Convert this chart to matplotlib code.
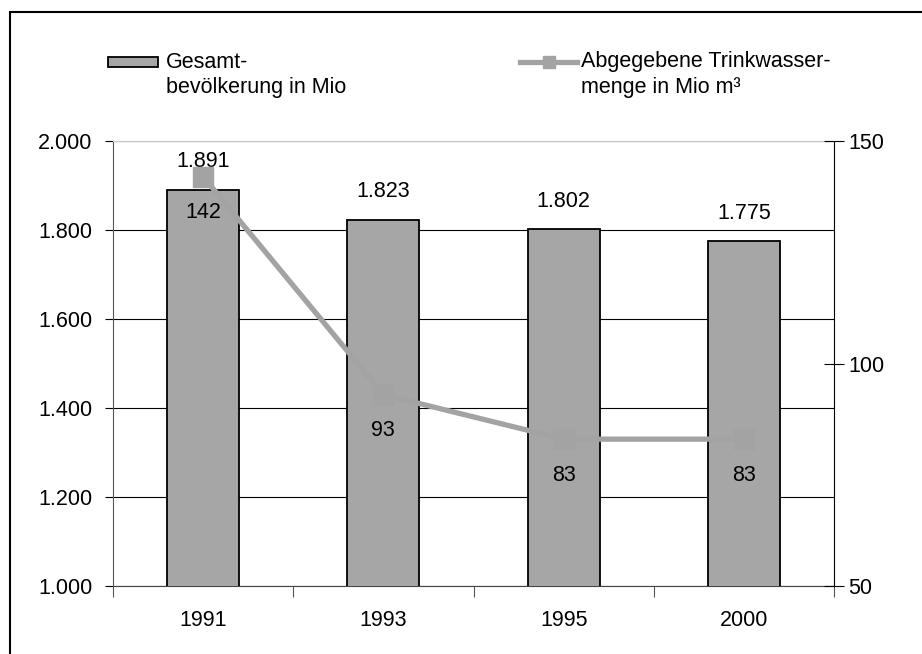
import matplotlib
matplotlib.use("Agg")
import matplotlib.pyplot as plt
import matplotlib.patches as mpatches
from matplotlib.lines import Line2D
from matplotlib.ticker import FuncFormatter
import numpy as np

plt.rcParams["font.family"] = ["Liberation Sans", "DejaVu Sans"]

years = ["1991", "1993", "1995", "2000"]
population = [1891, 1823, 1802, 1775]
water = [142, 93, 83, 83]

BAR_COLOR = "#a6a6a6"
LINE_COLOR = "#a3a3a3"
FS = 15.5


def thousands(v, _pos=None):
    return f"{int(v):,}".replace(",", ".")


def fy(py):
    # pixel row from top -> figure fraction
    return (654 - py) / 654


fig = plt.figure(figsize=(9.22, 6.54), dpi=100)

# frame around the chart (only top/left visible in the crop)
fig.add_artist(mpatches.Rectangle((10 / 922, -0.1), 1.2, fy(12) + 0.1,
                                  transform=fig.transFigure, facecolor="none",
                                  edgecolor="black", linewidth=1.5))

ax = fig.add_axes([113 / 922, 68 / 654, 721 / 922, 445 / 654])
ax2 = ax.twinx()

x = np.arange(len(years))
ax.bar(x, population, width=0.4, color=BAR_COLOR, edgecolor="black",
       linewidth=1.3, zorder=3)
ax.set_xlim(-0.5, len(years) - 0.5)
ax.set_ylim(1000, 2000)
ax.set_yticks(np.arange(1000, 2001, 200))
ax.yaxis.set_major_formatter(FuncFormatter(thousands))
ax.grid(axis="y", color="black", linewidth=0.8, zorder=0)
ax.set_axisbelow(True)

ax.set_xticks(x)
ax.set_xticklabels(years)
ax.set_xticks(np.arange(-0.5, len(years)), minor=True)
ax.tick_params(axis="x", which="major", length=0, pad=17, labelsize=FS)
ax.tick_params(axis="x", which="minor", length=8, width=0.8, color="#555555")
ax.tick_params(axis="y", length=6, width=0.8, labelsize=FS, pad=9)

ax.spines["top"].set_color("#c8c8c8")
ax.spines["left"].set_color("#555555")
ax.spines["bottom"].set_color("#444444")
ax.spines["right"].set_visible(False)

for xi, v in zip(x, population):
    ax.annotate(thousands(v), (xi, v), xytext=(0, 20), textcoords="offset points",
                ha="center", va="center", fontsize=FS, zorder=6)

ax2.plot(x, water, color=LINE_COLOR, linewidth=3.8, marker="s", markersize=15,
         markerfacecolor=LINE_COLOR, markeredgecolor=LINE_COLOR, zorder=5)
ax2.set_ylim(50, 150)
ax2.set_yticks([50, 100, 150])
ax2.tick_params(axis="y", direction="inout", length=14, width=0.8, labelsize=FS, pad=3)
ax2.spines["right"].set_color("black")
for side in ("top", "left", "bottom"):
    ax2.spines[side].set_visible(False)

for xi, v in zip(x, water):
    ax2.annotate(str(v), (xi, v), xytext=(0, -26), textcoords="offset points",
                 ha="center", va="center", fontsize=FS, zorder=6)

# legend
fig.add_artist(mpatches.Rectangle((108 / 922, fy(67)), 50 / 922, 10 / 654,
                                  transform=fig.transFigure, facecolor=BAR_COLOR,
                                  edgecolor="black", linewidth=1.3))
fig.text(166 / 922, fy(62), "Gesamt-", fontsize=FS, ha="left", va="center")
fig.text(166 / 922, fy(88), "bevölkerung in Mio", fontsize=FS, ha="left", va="center")

fig.add_artist(Line2D([520 / 922, 577 / 922], [fy(62)] * 2,
                      transform=fig.transFigure, color=LINE_COLOR, linewidth=3.8))
fig.add_artist(Line2D([548.5 / 922], [fy(62)], transform=fig.transFigure,
                      color=LINE_COLOR, marker="s", markersize=9, linestyle="none"))
fig.text(581 / 922, fy(62), "Abgegebene Trinkwasser-", fontsize=FS, ha="left", va="center")
fig.text(581 / 922, fy(88), "menge in Mio m³", fontsize=FS, ha="left", va="center")

fig.savefig("out.png", dpi=100, facecolor="white")
